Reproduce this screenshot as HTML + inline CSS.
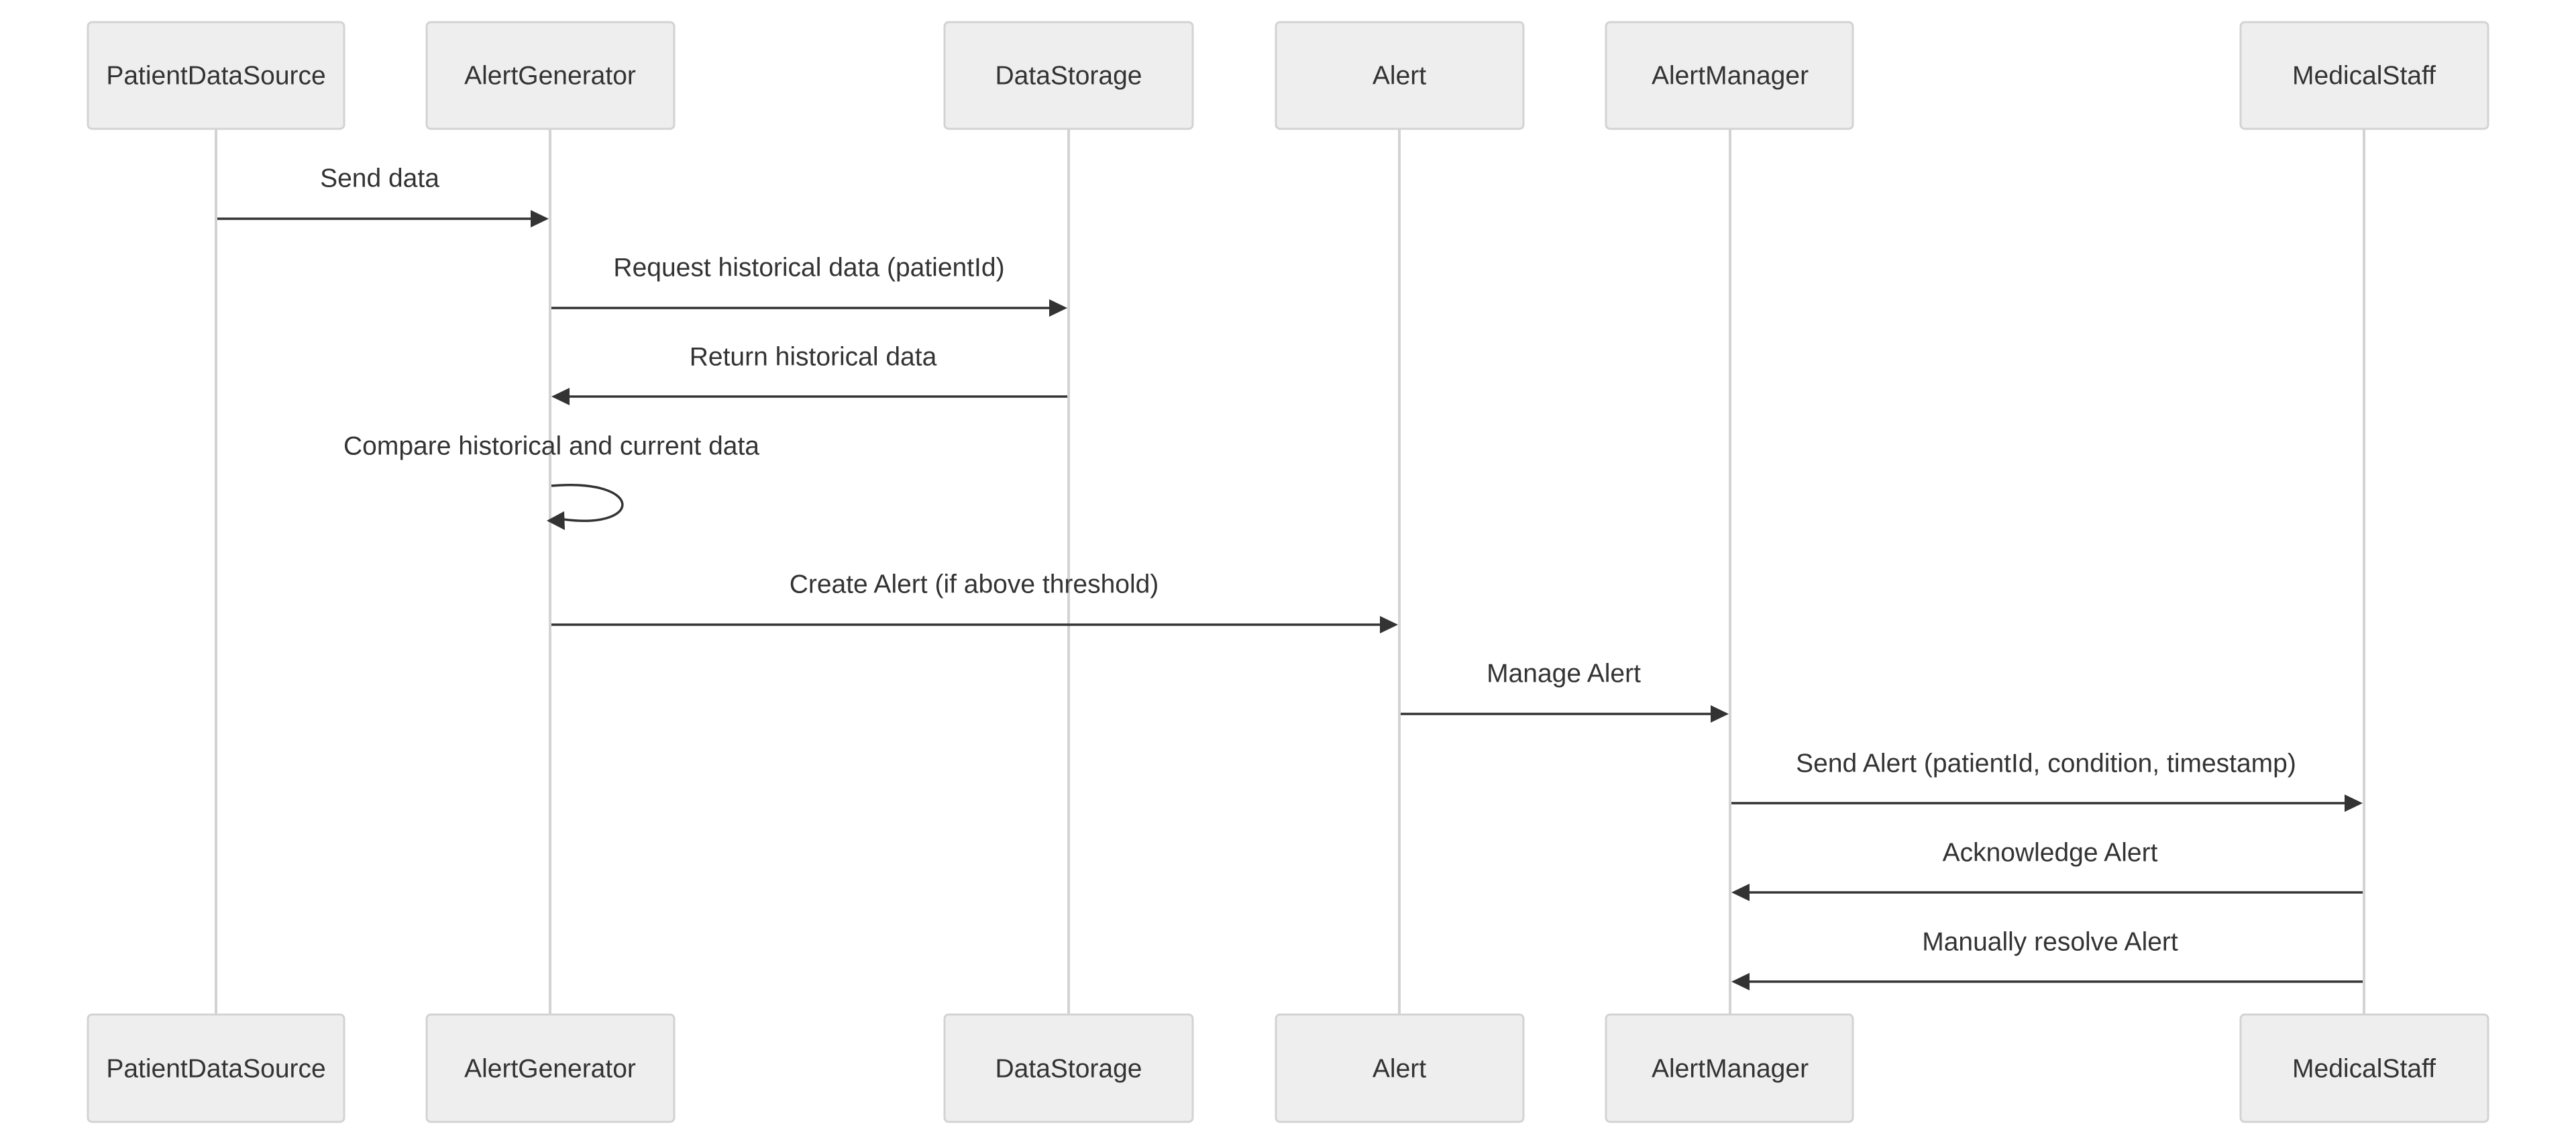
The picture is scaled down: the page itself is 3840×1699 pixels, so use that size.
<!DOCTYPE html>
<html><head><meta charset="utf-8"><style>
html,body{margin:0;padding:0;background:#fff;}
svg{display:block;}
text{font-family:"Liberation Sans",sans-serif;font-size:39px;fill:#333;text-anchor:middle;dominant-baseline:central;}
.box{fill:#eee;stroke:#d3d3d3;stroke-width:3;}
.life{stroke:#d3d3d3;stroke-width:4;}
.msg{stroke:#333;stroke-width:3.5;fill:none;}
.ah{fill:#333;}
</style></head><body>
<svg width="3840" height="1699" viewBox="0 0 3840 1699" xmlns="http://www.w3.org/2000/svg">
<g>
<line class="life" x1="322" y1="193" x2="322" y2="1512"/>
<line class="life" x1="820" y1="193" x2="820" y2="1512"/>
<line class="life" x1="1593" y1="193" x2="1593" y2="1512"/>
<line class="life" x1="2086" y1="193" x2="2086" y2="1512"/>
<line class="life" x1="2579" y1="193" x2="2579" y2="1512"/>
<line class="life" x1="3524" y1="193" x2="3524" y2="1512"/>
</g>
<g>
<rect class="box" x="131" y="33" width="382" height="159" rx="6"/><text x="322" y="113">PatientDataSource</text>
<rect class="box" x="636" y="33" width="369" height="159" rx="6"/><text x="820" y="113">AlertGenerator</text>
<rect class="box" x="1408" y="33" width="370" height="159" rx="6"/><text x="1593" y="113">DataStorage</text>
<rect class="box" x="1902" y="33" width="369" height="159" rx="6"/><text x="2086" y="113">Alert</text>
<rect class="box" x="2394" y="33" width="368" height="159" rx="6"/><text x="2579" y="113">AlertManager</text>
<rect class="box" x="3340" y="33" width="369" height="159" rx="6"/><text x="3524" y="113">MedicalStaff</text>

<rect class="box" x="131" y="1512" width="382" height="160" rx="6"/><text x="322" y="1593">PatientDataSource</text>
<rect class="box" x="636" y="1512" width="369" height="160" rx="6"/><text x="820" y="1593">AlertGenerator</text>
<rect class="box" x="1408" y="1512" width="370" height="160" rx="6"/><text x="1593" y="1593">DataStorage</text>
<rect class="box" x="1902" y="1512" width="369" height="160" rx="6"/><text x="2086" y="1593">Alert</text>
<rect class="box" x="2394" y="1512" width="368" height="160" rx="6"/><text x="2579" y="1593">AlertManager</text>
<rect class="box" x="3340" y="1512" width="369" height="160" rx="6"/><text x="3524" y="1593">MedicalStaff</text>
</g>

<!-- Send data -->
<text x="566" y="266">Send data</text>
<line class="msg" x1="324" y1="326" x2="795" y2="326"/>
<polygon class="ah" points="818,326 791,313 791,339"/>

<text x="1206" y="399">Request historical data (patientId)</text>
<line class="msg" x1="822" y1="459" x2="1568" y2="459"/>
<polygon class="ah" points="1591,459 1564,446 1564,472"/>

<text x="1212" y="532">Return historical data</text>
<line class="msg" x1="1591" y1="591" x2="846" y2="591"/>
<polygon class="ah" points="822,591 849,578 849,604"/>

<text x="822" y="665">Compare historical and current data</text>
<path class="msg" d="M822 724 C 960 712, 960 790, 840 774"/>
<polygon class="ah" points="815,776 841,762 842,790"/>

<text x="1452" y="871">Create Alert (if above threshold)</text>
<line class="msg" x1="822" y1="931" x2="2061" y2="931"/>
<polygon class="ah" points="2084,931 2057,918 2057,944"/>

<text x="2331" y="1004">Manage Alert</text>
<line class="msg" x1="2088" y1="1064" x2="2554" y2="1064"/>
<polygon class="ah" points="2577,1064 2550,1051 2550,1077"/>

<text x="3050" y="1138">Send Alert (patientId, condition, timestamp)</text>
<line class="msg" x1="2581" y1="1197" x2="3499" y2="1197"/>
<polygon class="ah" points="3522,1197 3495,1184 3495,1210"/>

<text x="3056" y="1271">Acknowledge Alert</text>
<line class="msg" x1="3522" y1="1330" x2="2605" y2="1330"/>
<polygon class="ah" points="2581,1330 2608,1317 2608,1343"/>

<text x="3056" y="1404">Manually resolve Alert</text>
<line class="msg" x1="3522" y1="1463" x2="2605" y2="1463"/>
<polygon class="ah" points="2581,1463 2608,1450 2608,1476"/>
</svg>
</body></html>
